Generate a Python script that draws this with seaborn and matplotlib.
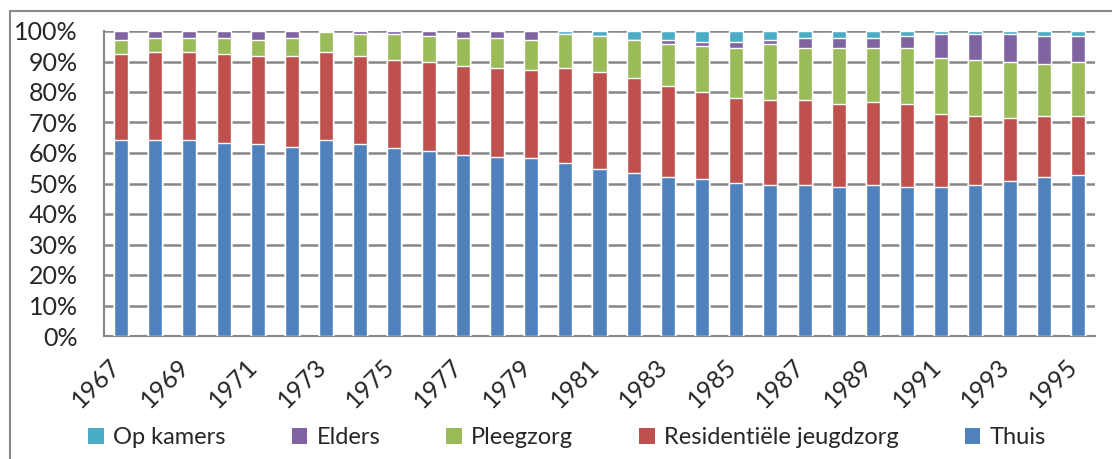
import numpy as np
import pandas as pd
import matplotlib
matplotlib.use("Agg")
import matplotlib.pyplot as plt
import matplotlib.transforms as mtransforms
from matplotlib.patches import Rectangle, Patch
import seaborn as sns

# percentages per jaar, gelezen uit de grafiek
years = list(range(1967, 1996))
thuis = [64.1, 64.1, 64.1, 63.4, 62.8, 62.1, 64.1, 62.8, 61.5, 60.8, 59.5, 58.8, 58.2, 56.8, 54.9,
         53.5, 52.2, 51.5, 50.2, 49.6, 49.6, 48.9, 49.6, 48.9, 48.9, 49.6, 50.9, 52.2, 52.9]
residentieel = [28.4, 29.0, 29.0, 29.1, 29.0, 29.7, 29.0, 29.0, 29.0, 29.0, 29.0, 29.1, 29.0, 31.1, 31.6,
                31.1, 29.7, 28.4, 27.7, 27.7, 27.7, 27.1, 27.0, 27.1, 23.8, 22.4, 20.5, 19.8, 19.1]
pleegzorg = [4.6, 4.7, 4.7, 5.3, 5.3, 6.0, 6.6, 7.3, 8.6, 8.6, 9.3, 9.9, 9.9, 11.2, 11.9,
             12.5, 13.9, 15.2, 16.6, 18.5, 17.2, 18.5, 17.9, 18.5, 18.5, 18.5, 18.4, 17.2, 17.8]
elders = [2.9, 2.2, 2.2, 2.2, 2.9, 2.2, 0.3, 0.9, 0.9, 1.6, 2.2, 2.2, 2.9, 0.0, 0.0,
          0.0, 1.3, 1.3, 1.9, 1.3, 3.3, 3.3, 3.3, 3.9, 7.9, 8.6, 9.3, 9.2, 8.6]
op_kamers = [0.0, 0.0, 0.0, 0.0, 0.0, 0.0, 0.0, 0.0, 0.0, 0.0, 0.0, 0.0, 0.0, 0.9, 1.6,
             2.9, 2.9, 3.6, 3.6, 2.9, 2.2, 2.2, 2.2, 1.6, 0.9, 0.9, 0.9, 1.6, 1.6]

series = ["Thuis", "Residentiële jeugdzorg", "Pleegzorg", "Elders", "Op kamers"]
colors = ["#4F81BD", "#C0504D", "#9BBB59", "#8064A2", "#4BACC6"]

df = pd.DataFrame({"jaar": [str(y) for y in years], "Thuis": thuis,
                   "Residentiële jeugdzorg": residentieel, "Pleegzorg": pleegzorg,
                   "Elders": elders, "Op kamers": op_kamers})
cum = df[series].cumsum(axis=1)
cum["jaar"] = df["jaar"]

sns.set_style("white")
plt.rcParams["font.family"] = ["Lato", "DejaVu Sans"]

fig = plt.figure(figsize=(11.12, 4.59), dpi=100)
ax = fig.add_axes([104 / 1112, 1 - 336 / 459, (1095 - 104) / 1112, (336 - 31) / 459])

# gestapeld: eerst de hoogste cumulatieve laag, dan eroverheen de lagere
for name, col in reversed(list(zip(series, colors))):
    sns.barplot(data=cum, x="jaar", y=name, color=col, saturation=1, width=0.41,
                order=cum["jaar"], ax=ax, zorder=3)

grid = "#878787"
ax.set_ylim(0, 100)
ax.set_xlim(-0.5, len(years) - 0.5)
ax.set_yticks(np.arange(0, 101, 10))
ax.set_yticklabels([f"{v}%" for v in range(0, 101, 10)], fontsize=18)
ax.yaxis.grid(True, color=grid, lw=1.8, zorder=0)
ax.set_axisbelow(True)
ax.tick_params(axis="y", length=7, width=1.5, color=grid, pad=12)

ax.set_xticks(range(0, len(years), 2))
ax.set_xticklabels([str(y) for y in years[::2]], rotation=45, ha="right", va="top",
                   rotation_mode="anchor", fontsize=18)
ax.set_xticks(np.arange(-0.5, len(years), 1), minor=True)
ax.tick_params(axis="x", which="major", length=0, pad=13)
ax.tick_params(axis="x", which="minor", length=6, width=1.2, color=grid)
shift = mtransforms.ScaledTranslation(-12 / 100, 0, fig.dpi_scale_trans)
for lbl in ax.get_xticklabels():
    lbl.set_transform(lbl.get_transform() + shift)
ax.set_xlabel("")
ax.set_ylabel("")

for s in ["top", "right"]:
    ax.spines[s].set_visible(False)
for s in ["left", "bottom"]:
    ax.spines[s].set_color(grid)
    ax.spines[s].set_linewidth(1.5)

handles = [Patch(facecolor=c, edgecolor="none") for c in reversed(colors)]
fig.legend(handles, list(reversed(series)), loc="center", bbox_to_anchor=(0.51, 1 - 438 / 459),
           ncol=5, frameon=False, fontsize=17, handlelength=0.65, handleheight=0.65,
           handletextpad=0.4, columnspacing=2.8)

fig.patches.append(Rectangle((10 / 1112, -0.1), 1.2, 1 - 11 / 459 + 0.1, transform=fig.transFigure,
                             fill=False, edgecolor="#8a8a8a", lw=1.5))

fig.savefig("out.png", dpi=100)
